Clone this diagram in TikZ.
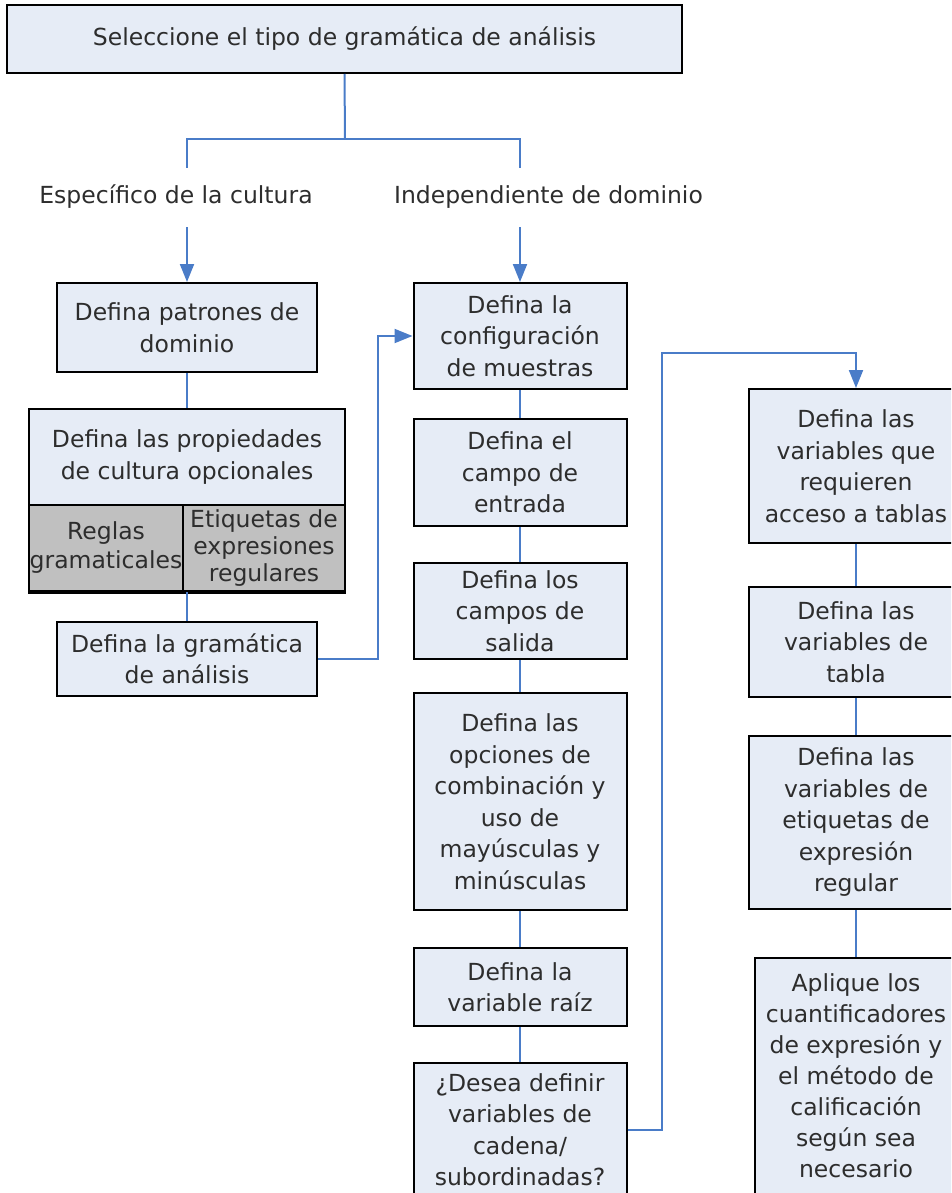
\documentclass[tikz,border=0pt]{standalone}
\usepackage{fontspec}
\setmainfont{DejaVu Sans}
\usepackage{xcolor}
\usepackage{tikz}
\usetikzlibrary{arrows.meta}
\definecolor{boxfill}{RGB}{230,236,246}
\definecolor{cellgray}{RGB}{192,192,192}
\definecolor{linkblue}{RGB}{74,124,200}
\definecolor{txtgray}{RGB}{45,45,45}
\tikzset{
  stepbox/.style={draw=black, line width=2pt, fill=boxfill, text=txtgray, align=center, inner sep=0pt},
  cellbox/.style={stepbox, fill=cellgray},
  link/.style={draw=linkblue, line width=2pt},
  linkarr/.style={link, -{Triangle[width=14pt,length=18pt]}},
  branch/.style={text=txtgray, inner sep=0pt}
}

\begin{document}
\begin{tikzpicture}[x=1pt, y=-1pt, every node/.style={font=\fontsize{23.5}{31.5}\selectfont}]
    \clip (0,0) rectangle (951,1193);
    \node[stepbox, minimum width=675, minimum height=68] (sel) at (344.5,39) {Seleccione el tipo de gram\'atica de an\'alisis};
    \coordinate (fork) at (345,139);
    \coordinate (forkL) at (187,168);
    \coordinate (forkR) at (520,168);
    \draw[link] (sel.south) -- (fork);
    \draw[link] (forkL) |- (fork) -| (forkR);
    \node[branch] (cult) at (176,197) {Espec\'ifico de la cultura};
    \node[branch] (indep) at (548.5,197) {Independiente de dominio};
    \coordinate (dropL) at (187,227);
    \coordinate (dropR) at (520,227);

    % left column
    \node[stepbox, minimum width=260, minimum height=89] (patrones) at (187,327.5) {Defina patrones de\\dominio};
    \node[stepbox, minimum width=316, minimum height=96] (prop) at (187,457) {Defina las propiedades\\de cultura opcionales};
    \node[cellbox, minimum width=154, minimum height=86, font=\fontsize{23.5}{29}\selectfont] (reglas) at (106,548) {Reglas\\gramaticales};
    \node[cellbox, minimum width=162, minimum height=86, font=\fontsize{23.5}{27}\selectfont] (etiq) at (264,548) {Etiquetas de\\expresiones\\regulares};
    \draw[line width=3.5pt] (reglas.south west) -- (etiq.south east);
    \node[stepbox, minimum width=260, minimum height=74] (gram) at (187,659) {Defina la gram\'atica\\de an\'alisis};

    % middle column
    \node[stepbox, minimum width=213, minimum height=106] (conf) at (520,336) {Defina la\\configuraci\'on\\de muestras};
    \node[stepbox, minimum width=213, minimum height=107] (campo) at (520,472.5) {Defina el\\campo de\\entrada};
    \node[stepbox, minimum width=213, minimum height=96] (salida) at (520,611) {Defina los\\campos de\\salida};
    \node[stepbox, minimum width=213, minimum height=217] (opc) at (520,801.5) {Defina las\\opciones de\\combinaci\'on y\\uso de\\may\'usculas y\\min\'usculas};
    \node[stepbox, minimum width=213, minimum height=78] (raiz) at (520,987) {Defina la\\variable ra\'iz};
    \node[stepbox, minimum width=213, minimum height=133] (desea) at (520,1129.5) {¿Desea definir\\variables de\\cadena/\\subordinadas?};

    % right column
    \node[stepbox, minimum width=214, minimum height=154] (tab1) at (856,466) {Defina las\\variables que\\requieren\\acceso a tablas};
    \node[stepbox, minimum width=214, minimum height=110] (tab2) at (856,642) {Defina las\\variables de\\tabla};
    \node[stepbox, minimum width=214, minimum height=173] (tab3) at (856,822.5) {Defina las\\variables de\\etiquetas de\\expresi\'on\\regular};
    \node[stepbox, minimum width=202, minimum height=236, font=\fontsize{23.5}{31}\selectfont] (aplique) at (856,1076) {Aplique los\\cuantificadores\\de expresi\'on y\\el m\'etodo de\\calificaci\'on\\seg\'un sea\\necesario};

    \draw[linkarr] (dropL) -- (patrones.north);
    \draw[linkarr] (dropR) -- (conf.north);
    \draw[link] (patrones) -- (prop);
    \draw[link] (reglas.south -| gram.north) -- (gram.north);
    \foreach \a/\b in {conf/campo, campo/salida, salida/opc, opc/raiz, raiz/desea, tab1/tab2, tab2/tab3, tab3/aplique}
      \draw[link] (\a) -- (\b);

    \coordinate (back) at (378,336);
    \draw[linkarr] (gram.east) -| (back) -- (conf.west);
    \coordinate (jump) at (662,353);
    \draw[linkarr] (desea.east) -| (jump) -| (tab1.north);
\end{tikzpicture}
\end{document}
